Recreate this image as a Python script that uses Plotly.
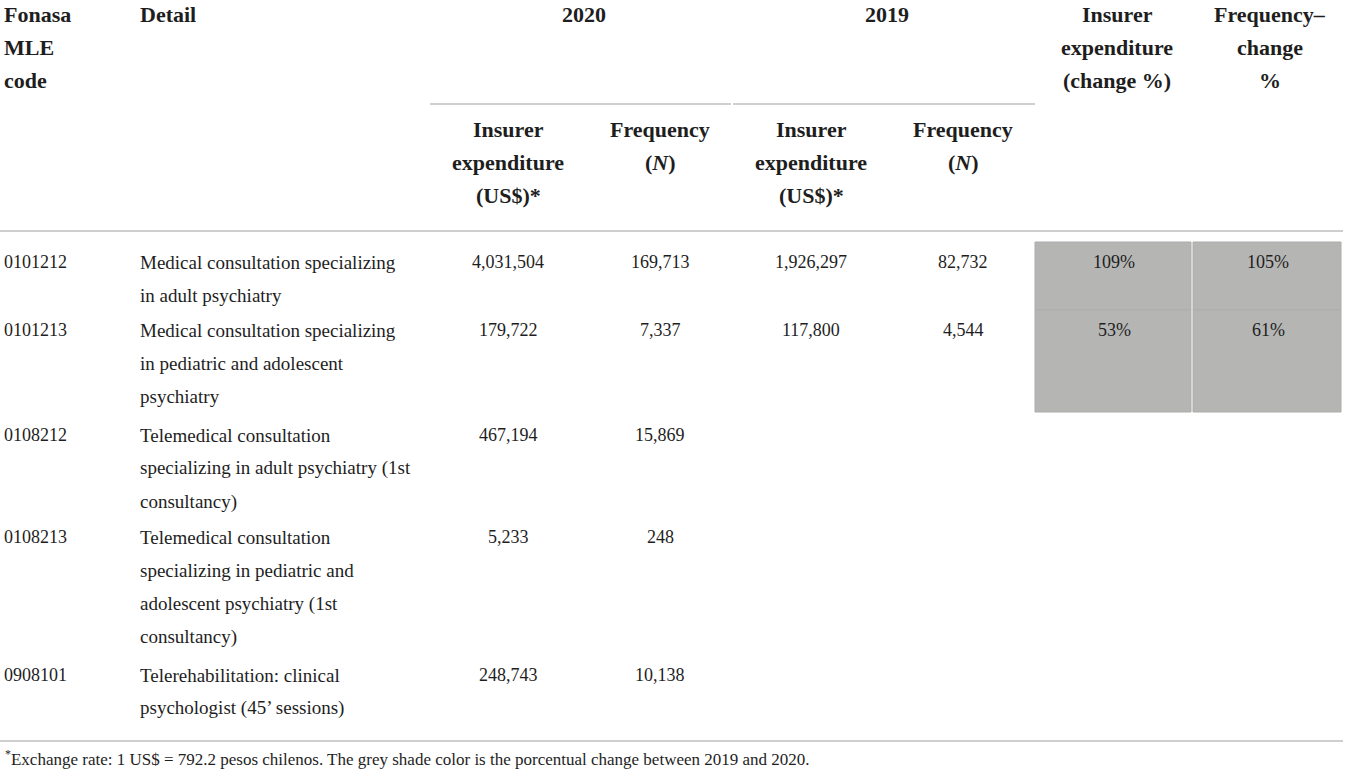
import plotly.graph_objects as go

# table data
codes = ["0101212", "0101213", "0108212", "0108213", "0908101"]
details = [
    ["Medical consultation specializing", "in adult psychiatry"],
    ["Medical consultation specializing", "in pediatric and adolescent", "psychiatry"],
    ["Telemedical consultation", "specializing in adult psychiatry (1st", "consultancy)"],
    ["Telemedical consultation", "specializing in pediatric and", "adolescent psychiatry (1st", "consultancy)"],
    ["Telerehabilitation: clinical", "psychologist (45\u2019 sessions)"],
]
expenditure_2020 = [4031504, 179722, 467194, 5233, 248743]
frequency_2020 = [169713, 7337, 15869, 248, 10138]
expenditure_2019 = [1926297, 117800, None, None, None]
frequency_2019 = [82732, 4544, None, None, None]
expenditure_change = [109, 53]
frequency_change = [105, 61]

years = ["2020", "2019"]
sub_headers = [["Insurer", "expenditure", "(US$)*"], ["Frequency", "(<i>N</i>)"]]
footnote = ("<sup>*</sup>Exchange rate: 1 US$ = 792.2 pesos chilenos. "
            "The grey shade color is the porcentual change between 2019 and 2020.")

FONT = "Liberation Serif"
INK = "#1e1e1e"
RULE = "#cfcfcf"
SHADE = "#b5b5b4"
W, H = 1347, 777
STEP = 33.3

col_code, col_detail = 2, 138
col_centres = [508, 660, 811, 963]
change_centres = [1114, 1268]
row_tops = [262, 330, 435, 537, 675]
shade_x = [(1035, 1191), (1193, 1341)]
shade_y = [(242, 310), (310, 412)]

fig = go.Figure()


def label(x, y, text, size=19, bold=False, anchor="center"):
    if bold:
        text = "<b>" + text + "</b>"
    fig.add_annotation(x=x, y=y, text=text, showarrow=False, xanchor=anchor, yanchor="middle",
                       font=dict(family=FONT, size=size, color=INK))


def lines(x, y0, parts, **kw):
    for i, p in enumerate(parts):
        label(x, y0 + i * STEP, p, **kw)


# header
lines(col_code, 14, ["Fonasa", "MLE", "code"], size=22, bold=True, anchor="left")
label(col_detail, 14, "Detail", size=22, bold=True, anchor="left")
for i, yr in enumerate(years):
    label((col_centres[2 * i] + col_centres[2 * i + 1]) / 2, 14, yr, size=22, bold=True)
    for j, sub in enumerate(sub_headers):
        lines(col_centres[2 * i + j], 129, sub, size=22, bold=True)
lines(change_centres[0] + 3, 14, ["Insurer", "expenditure", "(change %)"], size=22, bold=True)
lines(change_centres[1] + 2, 14, ["Frequency\u2013", "change", "%"], size=22, bold=True)

# rules
rules = [(430, 731, 104), (733, 1035, 104), (0, 1343, 231), (0, 1343, 741)]
for x0, x1, y in rules:
    fig.add_shape(type="line", x0=x0, x1=x1, y0=y, y1=y, line=dict(color=RULE, width=2))

# grey shading for the percentage change cells
for r in range(len(expenditure_change)):
    for x0, x1 in shade_x:
        fig.add_shape(type="rect", x0=x0, x1=x1, y0=shade_y[r][0], y1=shade_y[r][1],
                      fillcolor=SHADE, line=dict(color="#adadad", width=1), layer="below")

# body
columns = [expenditure_2020, frequency_2020, expenditure_2019, frequency_2019]
for r, code in enumerate(codes):
    y = row_tops[r]
    label(col_code, y, code, size=18, anchor="left")
    lines(col_detail, y, details[r], size=19, anchor="left")
    for c, vals in enumerate(columns):
        if vals[r] is not None:
            label(col_centres[c], y, f"{vals[r]:,}", size=18)
    if r < len(expenditure_change):
        label(change_centres[0], y, f"{expenditure_change[r]}%", size=18)
        label(change_centres[1], y, f"{frequency_change[r]}%", size=18)

fig.add_annotation(x=3, y=758, text=footnote, showarrow=False, xanchor="left", yanchor="middle",
                   font=dict(family=FONT, size=17, color=INK))

fig.update_layout(
    width=W, height=H,
    margin=dict(l=0, r=0, t=0, b=0),
    paper_bgcolor="white", plot_bgcolor="white",
    xaxis=dict(range=[0, W], visible=False, fixedrange=True),
    yaxis=dict(range=[H, 0], visible=False, fixedrange=True),
    showlegend=False,
)

# drop the browser's default body margin so the table sits flush at the top-left
fig.write_html("out.html", config={"displayModeBar": False},
               post_script="document.body.style.margin='0';")
